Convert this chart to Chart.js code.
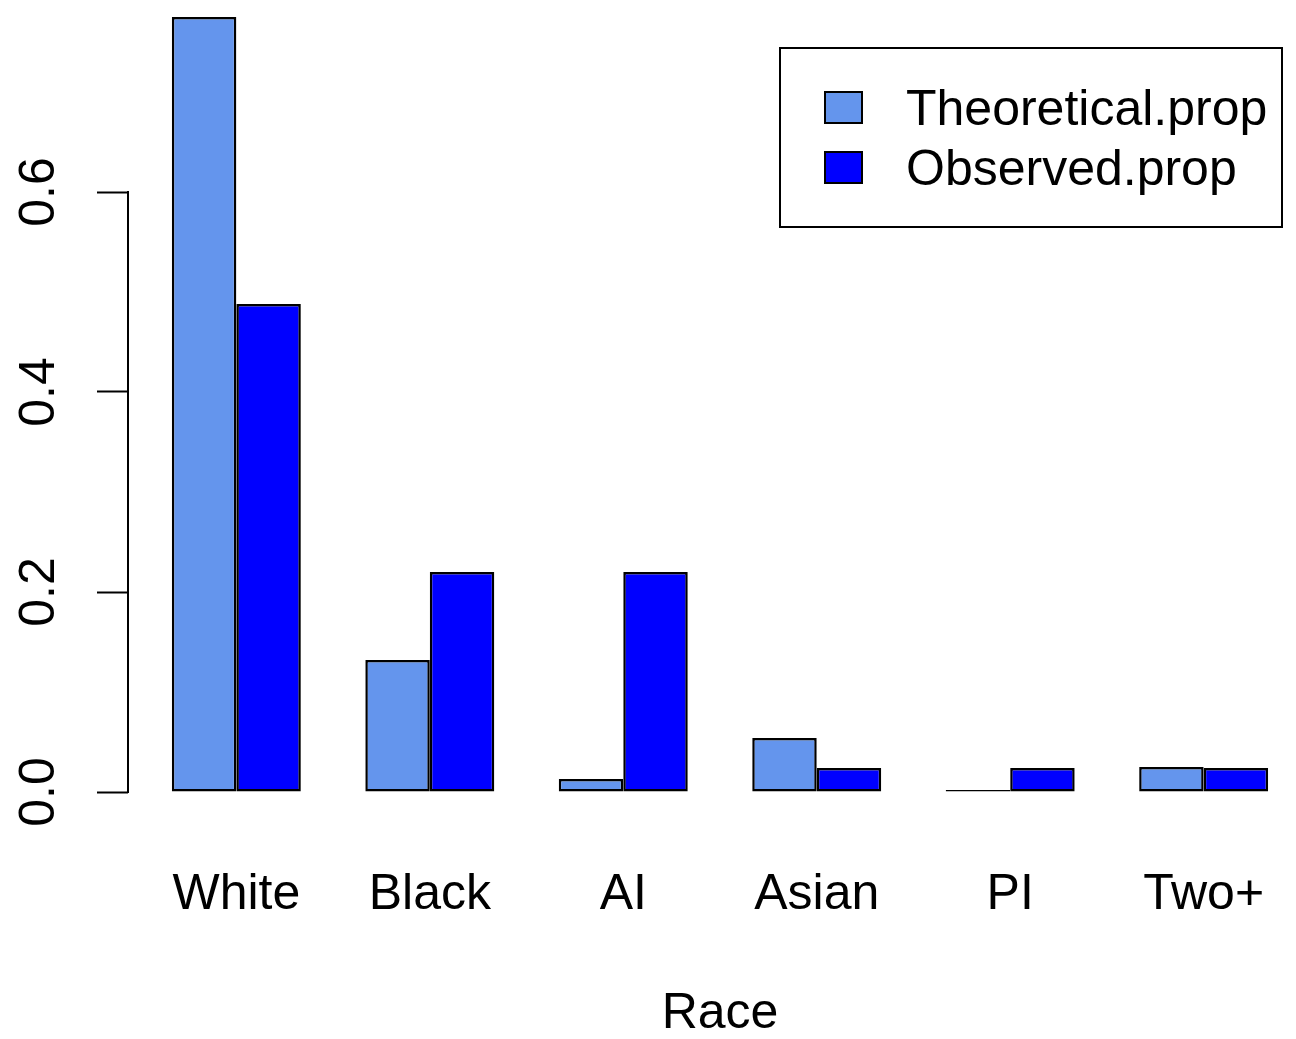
<!DOCTYPE html>
<html>
<head>
<meta charset="utf-8">
<script src="https://cdn.jsdelivr.net/npm/chart.js@4/dist/chart.umd.min.js"></script>
<style>
    html, body { margin: 0; padding: 0; background: #fff; overflow: hidden; }
    #wrap { width: 1320px; height: 1039px; }
</style>
</head>
<body>
<div id="wrap"><canvas id="graph" width="1320" height="1039"></canvas></div>
<script>

const categories = ["White", "Black", "AI", "Asian", "PI", "Two+"];
const theoretical = [0.775, 0.132, 0.013, 0.054, 0.002, 0.025];
const observed = [0.488, 0.220, 0.220, 0.024, 0.024, 0.024];
const seriesNames = ["Theoretical.prop", "Observed.prop"];
const seriesColors = ["#6495ED", "#0000FF"];
const yTicks = [0, 0.2, 0.4, 0.6];

const FONT = "'Liberation Sans', Arial, Helvetica, sans-serif";

// R barplot layout: each group = 1 gap + 2 bars, so group centre = 3*i + 2
const groupPos = categories.map((c, i) => 3 * i + 2);

const toPoints = (vals) => vals.map((v, i) => ({ x: groupPos[i], y: v }));

// axis line only spans the labelled ticks, like R's axis()
const axisLine = {
    id: 'axisLine',
    afterDraw(chart){
        const y = chart.scales.y;
        const x = chart.chartArea.left;
        const ctx = chart.ctx;
        ctx.save();
        ctx.strokeStyle = "#000";
        ctx.lineWidth = 2;
        ctx.beginPath();
        ctx.moveTo(x, y.getPixelForValue(yTicks[0]) + 1);
        ctx.lineTo(x, y.getPixelForValue(yTicks[yTicks.length - 1]) - 1);
        ctx.stroke();
        ctx.restore();
    }
};

// boxed legend in the top right
const boxLegend = {
    id: 'boxLegend',
    afterDraw(chart){
        const ctx = chart.ctx;
        ctx.save();
        ctx.lineWidth = 2;
        ctx.strokeStyle = "#000";
        ctx.strokeRect(780, 48, 502, 179);

        ctx.font = "50px " + FONT;
        ctx.textBaseline = "middle";
        ctx.textAlign = "left";
        chart.data.datasets.forEach((ds, i) => {
            const top = 92 + i * 60;
            ctx.fillStyle = ds.backgroundColor;
            ctx.fillRect(825, top, 37, 31);
            ctx.strokeRect(825, top, 37, 31);
            ctx.fillStyle = "#000";
            ctx.fillText(ds.label, 906, top + 19);
        });
        ctx.restore();
    }
};

new Chart(document.querySelector("#graph").getContext("2d"), {
    type: 'bar',
    data: {
        datasets: [
            { label: seriesNames[0], data: toPoints(theoretical), backgroundColor: seriesColors[0] },
            { label: seriesNames[1], data: toPoints(observed), backgroundColor: seriesColors[1] }
        ]
    },
    options: {
        responsive: false,
        animation: false,
        layout: { padding: { top: 10, right: 8, left: 0, bottom: 0 } },
        datasets: {
            bar: {
                categoryPercentage: 2 / 3,
                barPercentage: 1,
                borderColor: "#000",
                borderWidth: 2.5,
                borderSkipped: false
            }
        },
        plugins: {
            legend: { display: false },
            tooltip: { enabled: false }
        },
        scales: {
            x: {
                type: 'linear',
                offset: false,
                min: 0.32,
                max: 18.68,
                grid: { display: false, drawTicks: false },
                border: { display: false },
                afterBuildTicks(scale){
                    scale.ticks = groupPos.map(v => ({ value: v }));
                },
                afterFit(scale){
                    scale.height = 216;
                    scale.paddingLeft = 0;
                    scale.paddingRight = 0;
                },
                ticks: {
                    autoSkip: false,
                    maxRotation: 0,
                    padding: 42,
                    color: "#000",
                    font: { family: FONT, size: 50 },
                    callback: (v) => categories[groupPos.indexOf(v)]
                },
                title: {
                    display: true,
                    text: "Race",
                    color: "#000",
                    font: { family: FONT, size: 50, lineHeight: 1 },
                    padding: { top: 0, bottom: 0 }
                }
            },
            y: {
                min: -0.031,
                max: 0.782,
                border: { display: false },
                grid: {
                    drawOnChartArea: false,
                    drawTicks: true,
                    tickLength: 31,
                    tickWidth: 2,
                    tickColor: "#000"
                },
                afterBuildTicks(scale){
                    scale.ticks = yTicks.map(v => ({ value: v }));
                },
                afterFit(scale){
                    scale.width = 128;
                    scale.paddingTop = 0;
                    scale.paddingBottom = 0;
                },
                ticks: {
                    minRotation: 90,
                    maxRotation: 90,
                    crossAlign: 'center',
                    padding: 22,
                    color: "#000",
                    font: { family: FONT, size: 50 },
                    callback: (v) => v.toFixed(1)
                }
            }
        }
    },
    plugins: [axisLine, boxLegend]
});

</script>
</body>
</html>
